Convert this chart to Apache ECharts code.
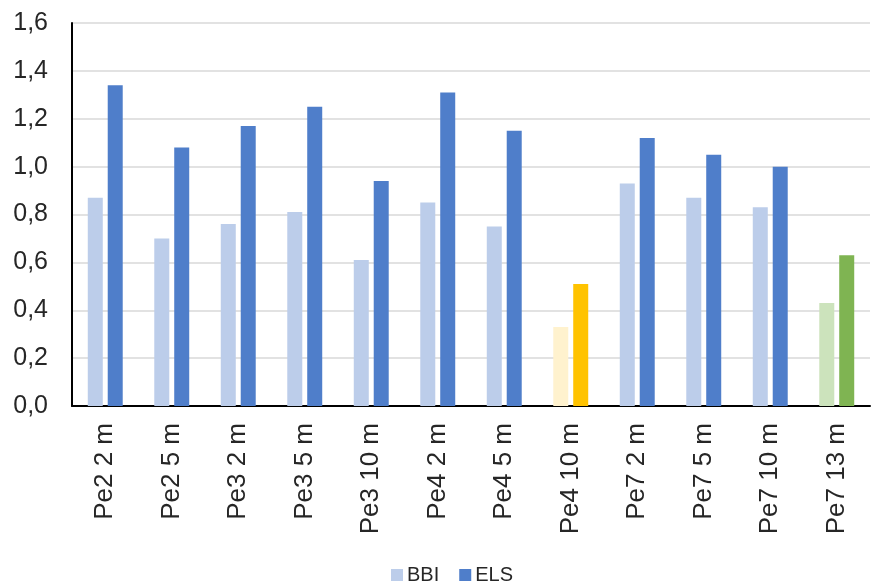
<!DOCTYPE html>
<html>
<head>
<meta charset="utf-8">
<script src="https://cdn.jsdelivr.net/npm/echarts@6/dist/echarts.min.js"></script>
<style>
  html, body { margin: 0; padding: 0; background: #fff; }
  #chart { width: 873px; height: 583px; }
</style>
</head>
<body>
<div id="chart"></div>
<script>
// Sampling sites and depths
const categories = ['Pe2 2 m', 'Pe2 5 m', 'Pe3 2 m', 'Pe3 5 m', 'Pe3 10 m', 'Pe4 2 m',
                    'Pe4 5 m', 'Pe4 10 m', 'Pe7 2 m', 'Pe7 5 m', 'Pe7 10 m', 'Pe7 13 m'];
const bbiValues = [0.87, 0.70, 0.76, 0.81, 0.61, 0.85, 0.75, 0.33, 0.93, 0.87, 0.83, 0.43];
const elsValues = [1.34, 1.08, 1.17, 1.25, 0.94, 1.31, 1.15, 0.51, 1.12, 1.05, 1.00, 0.63];
const yTicks = { min: 0, max: 1.6, interval: 0.2 };

// Default series colours and per-category highlight colours
const bbiColor = '#BCCDEA';
const elsColor = '#4F7ECA';
const highlight = {
  'Pe4 10 m': { bbi: '#FFF2CE', els: '#FFC300' },
  'Pe7 13 m': { bbi: '#CCE3BC', els: '#7FB452' }
};

function buildData(values, key) {
  return values.map((v, i) => {
    const h = highlight[categories[i]];
    return h ? { value: v, itemStyle: { color: h[key] } } : v;
  });
}

const chart = echarts.init(document.getElementById('chart'), null, { renderer: 'canvas' });
const font = 'Liberation Sans, Arial, sans-serif';
const textColor = '#262626';

chart.setOption({
  animation: false,
  backgroundColor: '#fff',
  textStyle: { fontFamily: font },
  grid: { left: 72, right: 3, top: 23, bottom: 177, containLabel: false },
  legend: {
    left: 386,
    top: 560,
    itemWidth: 12,
    itemHeight: 12,
    itemGap: 20,
    icon: 'rect',
    textStyle: { fontSize: 20, color: textColor, fontFamily: font, padding: [0, 0, 0, -1] },
    data: ['BBI', 'ELS']
  },
  xAxis: {
    type: 'category',
    data: categories,
    axisLine: { lineStyle: { color: '#000', width: 2 } },
    axisTick: { show: false },
    axisLabel: {
      rotate: 90,
      fontSize: 26,
      color: textColor,
      margin: 17,
      fontFamily: font
    }
  },
  yAxis: {
    type: 'value',
    min: yTicks.min,
    max: yTicks.max,
    interval: yTicks.interval,
    axisLine: { show: true, lineStyle: { color: '#000', width: 2 } },
    axisTick: { show: false },
    splitLine: { lineStyle: { color: '#D9D9D9', width: 1.5 } },
    axisLabel: {
      fontSize: 25,
      color: textColor,
      margin: 24,
      fontFamily: font,
      formatter: v => v.toFixed(1).replace('.', ',')
    }
  },
  series: [
    {
      name: 'BBI',
      type: 'bar',
      barWidth: 15,
      barGap: '33%',
      itemStyle: { color: bbiColor },
      data: buildData(bbiValues, 'bbi')
    },
    {
      name: 'ELS',
      type: 'bar',
      barWidth: 15,
      itemStyle: { color: elsColor },
      data: buildData(elsValues, 'els')
    }
  ]
});
</script>
</body>
</html>
